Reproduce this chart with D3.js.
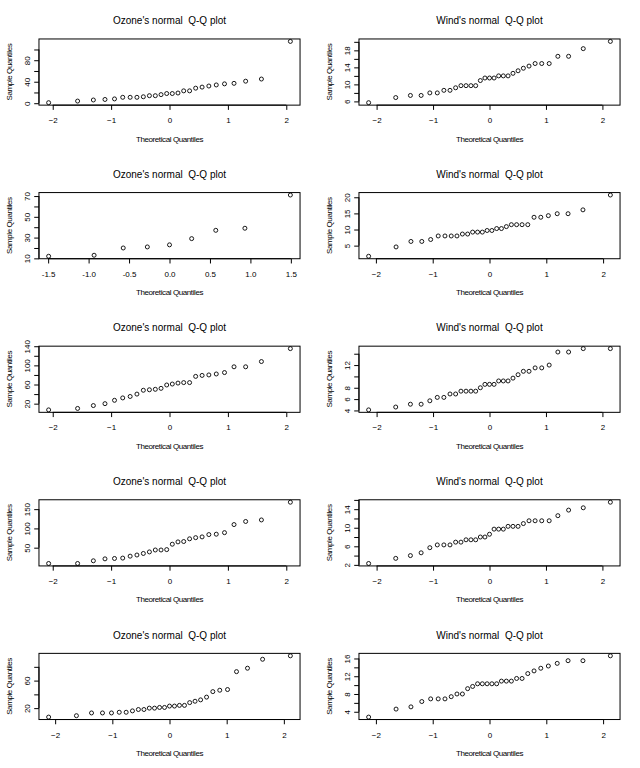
<!DOCTYPE html>
<html>
<head>
<meta charset="utf-8">
<script src="https://cdn.jsdelivr.net/npm/d3@7"></script>
<style>
html,body{margin:0;padding:0;background:#fff;}
svg{display:block;}
text{font-family:"Liberation Sans",Arial,Helvetica,sans-serif;fill:#000;white-space:pre;}
</style>
</head>
<body>
<svg id="chart" width="640" height="768"></svg>
<script>
// ---- Data: sorted sample values (airquality by month) ----
const ozoneMay  = [1,4,6,7,8,11,11,11,12,14,14,16,18,18,19,23,23,28,30,32,34,36,37,41,45,115];
const windMay   = [5.7,6.9,7.4,7.4,8.0,8.0,8.6,8.6,9.2,9.7,9.7,9.7,9.7,10.9,11.5,11.5,11.5,12.0,12.0,12.0,12.6,13.2,13.8,14.3,14.9,14.9,14.9,16.6,16.6,18.4,20.1];
const ozoneJun  = [12,13,20,21,23,29,37,39,71];
const windJun   = [1.7,4.6,6.3,6.3,6.9,8.0,8.0,8.0,8.0,8.6,8.6,9.2,9.2,9.2,9.7,9.7,10.3,10.3,10.9,11.5,11.5,11.5,11.5,13.8,13.8,14.3,14.9,14.9,16.1,20.7];
const ozoneJul  = [7,10,16,20,27,32,35,40,48,49,50,52,59,61,63,64,64,77,79,80,82,85,97,97,108,135];
const windJul   = [4.1,4.6,5.1,5.1,5.7,6.3,6.3,6.9,6.9,7.4,7.4,7.4,7.4,8.0,8.6,8.6,8.6,9.2,9.2,9.2,9.7,10.3,10.9,10.9,11.5,11.5,12.0,14.3,14.3,14.9,14.9];
const ozoneAug  = [9,9,16,21,22,23,28,31,35,39,44,44,45,59,65,66,73,76,78,84,85,89,110,118,122,168];
const windAug   = [2.3,3.4,4.0,4.6,5.7,6.3,6.3,6.3,6.9,6.9,7.4,7.4,7.4,8.0,8.0,8.6,9.7,9.7,9.7,10.3,10.3,10.3,10.9,11.5,11.5,11.5,11.5,12.6,13.8,14.3,15.5];
const ozoneSep  = [7,9,13,13,13,14,14,16,18,18,20,20,21,21,23,23,24,24,28,30,32,36,44,46,47,73,78,91,96];
const windSep   = [2.8,4.6,5.1,6.3,6.9,6.9,6.9,7.4,8.0,8.0,9.2,9.7,10.3,10.3,10.3,10.3,10.3,10.9,10.9,10.9,11.5,11.5,12.6,13.2,13.8,14.3,14.9,15.5,15.5,16.6];

// ---- Theoretical normal quantiles (per sample size) ----
const q9  = [-1.494,-0.932,-0.572,-0.274,0,0.274,0.572,0.932,1.494];
const q26 = [-2.070,-1.574,-1.304,-1.105,-0.942,-0.801,-0.674,-0.558,-0.448,-0.344,-0.243,-0.145,-0.048,
              0.048,0.145,0.243,0.344,0.448,0.558,0.674,0.801,0.942,1.105,1.304,1.574,2.070];
const q29 = [-2.114,-1.628,-1.364,-1.172,-1.015,-0.879,-0.758,-0.648,-0.544,-0.447,-0.353,-0.262,-0.174,-0.087,0,
              0.087,0.174,0.262,0.353,0.447,0.544,0.648,0.758,0.879,1.015,1.172,1.364,1.628,2.114];
const q30 = [-2.128,-1.645,-1.383,-1.192,-1.036,-0.903,-0.784,-0.674,-0.573,-0.477,-0.385,-0.297,-0.210,-0.126,-0.042,
              0.042,0.126,0.210,0.297,0.385,0.477,0.573,0.674,0.784,0.903,1.036,1.192,1.383,1.645,2.128];
const q31 = [-2.141,-1.661,-1.401,-1.211,-1.057,-0.925,-0.808,-0.700,-0.600,-0.506,-0.416,-0.329,-0.245,-0.162,-0.081,0,
              0.081,0.162,0.245,0.329,0.416,0.506,0.600,0.700,0.808,0.925,1.057,1.211,1.401,1.661,2.141];

// ---- Tick values and which ones carry labels ----
const xTicksStd = [-2,-1,0,1,2];
const xTicksJun = [-1.5,-1.0,-0.5,0.0,0.5,1.0,1.5];
const xLabelsJun = ["-1.5","-1.0","-0.5","0.0","0.5","1.0","1.5"];

const yTicksOzMay = [0,20,40,60,80,100],        yLabOzMay = [0,40,80];
const yTicksWiMay = [6,8,10,12,14,16,18,20],     yLabWiMay = [6,10,14,18];
const yTicksOzJun = [10,20,30,40,50,60,70],      yLabOzJun = [10,30,50,70];
const yTicksWiJun = [5,10,15,20],                yLabWiJun = [5,10,15,20];
const yTicksOzJul = [20,40,60,80,100,120,140],   yLabOzJul = [20,60,100,140];
const yTicksWiJul = [4,6,8,10,12,14],            yLabWiJul = [4,6,8,12];
const yTicksOzAug = [50,100,150],                yLabOzAug = [50,100,150];
const yTicksWiAug = [2,4,6,8,10,12,14,16],       yLabWiAug = [2,6,10,14];
const yTicksOzSep = [20,40,60,80],               yLabOzSep = [20,60];
const yTicksWiSep = [4,6,8,10,12,14,16],         yLabWiSep = [4,8,12,16];

const titles = ["Ozone's normal  Q-Q plot","Wind's normal  Q-Q plot"];
const xTitle = "Theoretical Quantiles";
const yTitle = "Sample Quantiles";

const panels = [
  {row:0,col:0,x:q26,y:ozoneMay,yt:yTicksOzMay,yl:yLabOzMay,xt:xTicksStd,xl:null},
  {row:0,col:1,x:q31,y:windMay, yt:yTicksWiMay,yl:yLabWiMay,xt:xTicksStd,xl:null},
  {row:1,col:0,x:q9, y:ozoneJun,yt:yTicksOzJun,yl:yLabOzJun,xt:xTicksJun,xl:xLabelsJun},
  {row:1,col:1,x:q30,y:windJun, yt:yTicksWiJun,yl:yLabWiJun,xt:xTicksStd,xl:null},
  {row:2,col:0,x:q26,y:ozoneJul,yt:yTicksOzJul,yl:yLabOzJul,xt:xTicksStd,xl:null},
  {row:2,col:1,x:q31,y:windJul, yt:yTicksWiJul,yl:yLabWiJul,xt:xTicksStd,xl:null},
  {row:3,col:0,x:q26,y:ozoneAug,yt:yTicksOzAug,yl:yLabOzAug,xt:xTicksStd,xl:null},
  {row:3,col:1,x:q31,y:windAug, yt:yTicksWiAug,yl:yLabWiAug,xt:xTicksStd,xl:null},
  {row:4,col:0,x:q29,y:ozoneSep,yt:yTicksOzSep,yl:yLabOzSep,xt:xTicksStd,xl:null},
  {row:4,col:1,x:q30,y:windSep, yt:yTicksWiSep,yl:yLabWiSep,xt:xTicksStd,xl:null}
];

// ---- Layout ----
const W = 640, H = 768, nRows = 5, nCols = 2;
const cellW = W / nCols, cellH = H / nRows;
const line = 9.504;
const mar = {bottom:5.1*line, left:4.1*line, top:4.1*line, right:2.1*line};

const svg = d3.select("#chart");

function extend(ext){ const d = (ext[1]-ext[0])*0.04; return [ext[0]-d, ext[1]+d]; }

panels.forEach(p => {
  const cx = p.col*cellW, cy = p.row*cellH;
  const g = svg.append("g").attr("transform", `translate(${cx},${cy})`);
  const x0 = mar.left, x1 = cellW - mar.right, y0 = mar.top, y1 = cellH - mar.bottom;

  const xs = d3.scaleLinear().domain(extend(d3.extent(p.x))).range([x0, x1]);
  const ys = d3.scaleLinear().domain(extend(d3.extent(p.y))).range([y1, y0]);

  // title
  g.append("text").attr("x", (x0+x1)/2).attr("y", 20.7).attr("text-anchor","middle")
    .attr("dominant-baseline","central").attr("font-size", 10).text(titles[p.col]);

  // x axis
  const xAxis = d3.axisBottom(xs).tickValues(p.xt).tickSize(4.75).tickPadding(3)
    .tickFormat((d,i) => p.xl ? p.xl[i] : d3.format("d")(d));
  const gx = g.append("g").attr("transform", `translate(0,${y1})`).call(xAxis);
  gx.select(".domain").attr("d", `M${xs(p.xt[0])},0H${xs(p.xt[p.xt.length-1])}`).attr("stroke","#000");
  gx.selectAll(".tick line").attr("stroke","#000");
  gx.selectAll(".tick text").attr("font-size", 8).attr("font-family", null).attr("fill","#000")
    .attr("y", null).attr("dy", null).attr("transform", "translate(0,15.6)").attr("dominant-baseline","central");

  // y axis
  const yAxis = d3.axisLeft(ys).tickValues(p.yt).tickSize(4.75)
    .tickFormat(d => p.yl.includes(d) ? d3.format("d")(d) : "");
  const gy = g.append("g").attr("transform", `translate(${x0},0)`).call(yAxis);
  gy.select(".domain").attr("d", `M0,${ys(p.yt[0])}V${ys(p.yt[p.yt.length-1])}`).attr("stroke","#000");
  gy.selectAll(".tick line").attr("stroke","#000");
  gy.selectAll(".tick text").attr("font-size", 8).attr("font-family", null).attr("fill","#000")
    .attr("x", null).attr("dy", null).attr("text-anchor","middle").attr("dominant-baseline","central")
    .attr("transform", `translate(${27 - x0},0) rotate(-90)`);
  g.attr("font-family", null);
  gx.attr("font-family", null); gy.attr("font-family", null);

  // box
  g.append("rect").attr("x", x0).attr("y", y0).attr("width", x1-x0).attr("height", y1-y0)
    .attr("fill","none").attr("stroke","#000").attr("stroke-width",1);

  // axis titles
  g.append("text").attr("x", (x0+x1)/2).attr("y", 139).attr("text-anchor","middle")
    .attr("dominant-baseline","central").attr("font-size", 8).attr("letter-spacing", -0.4).text(xTitle);
  g.append("text").attr("transform", `translate(9.5,${(y0+y1)/2}) rotate(-90)`).attr("text-anchor","middle")
    .attr("dominant-baseline","central").attr("font-size", 8).attr("letter-spacing", -0.4).text(yTitle);

  // points
  g.append("g").selectAll("circle").data(p.y).join("circle")
    .attr("cx", (d,i) => xs(p.x[i])).attr("cy", d => ys(d)).attr("r", 2)
    .attr("fill","none").attr("stroke","#000").attr("stroke-width", 0.9);
});
</script>
</body>
</html>
